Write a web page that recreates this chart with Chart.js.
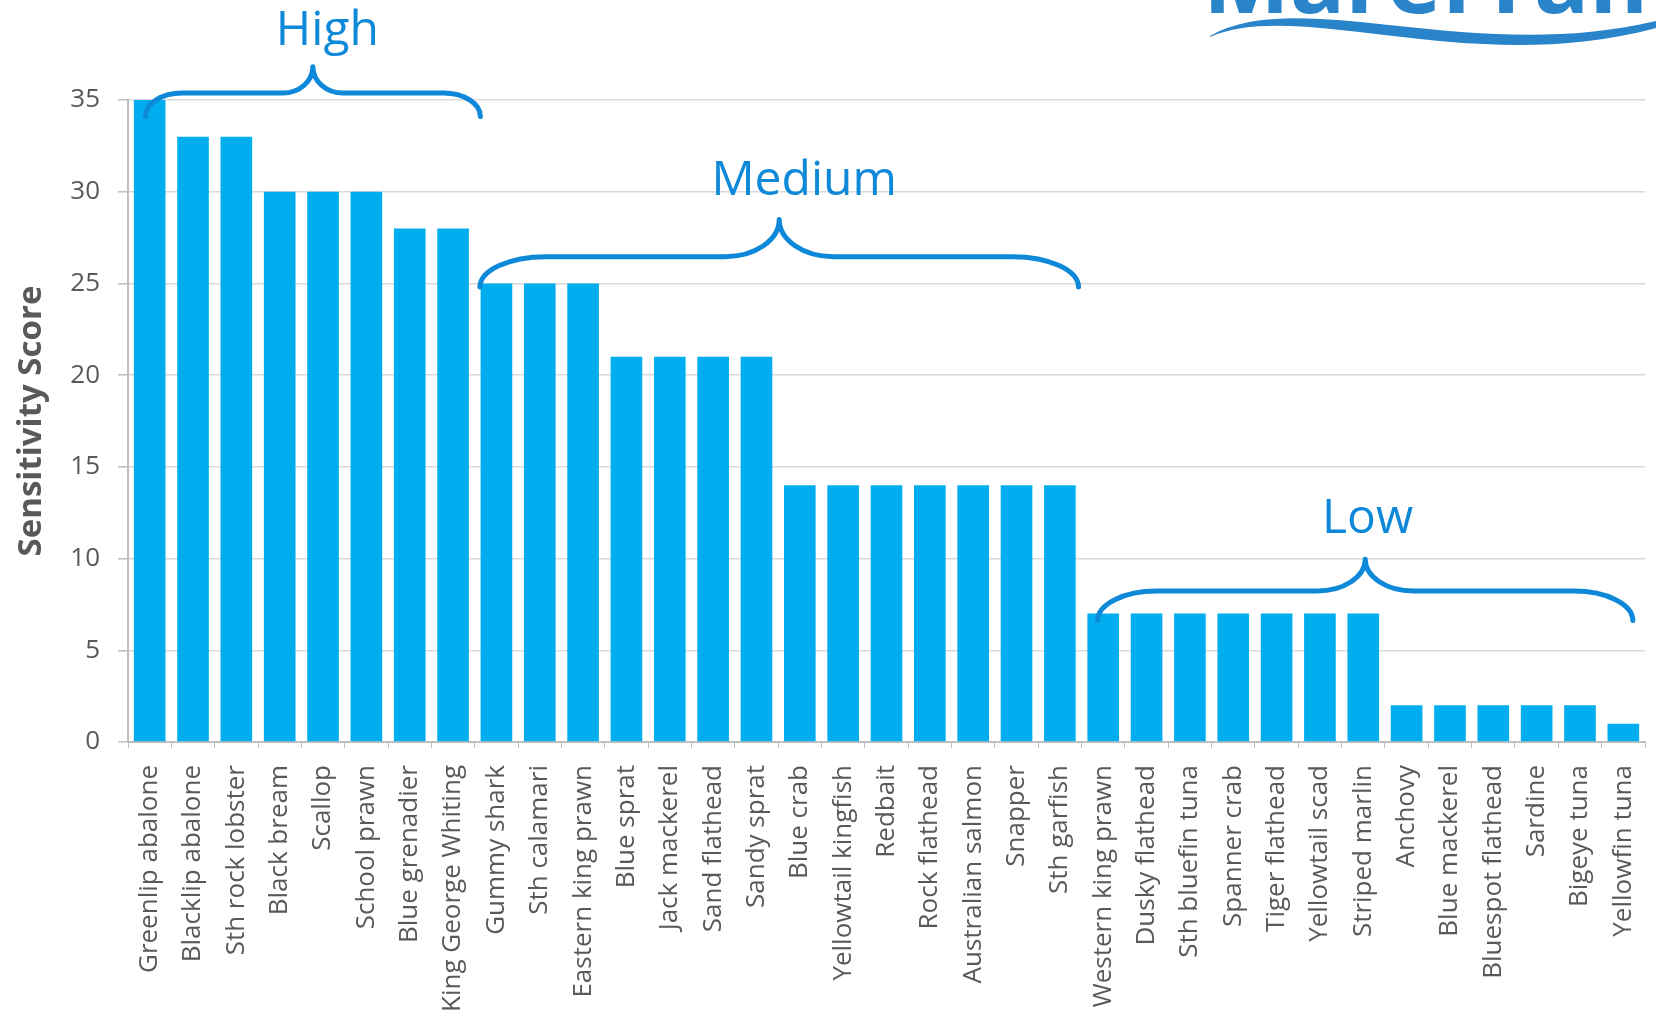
<!DOCTYPE html>
<html><head><meta charset="utf-8">
<script src="https://cdn.jsdelivr.net/npm/chart.js@4.4.1/dist/chart.umd.min.js"></script>
<style>html,body{margin:0;padding:0;background:#fff;overflow:hidden;} #wrap{position:relative;width:1656px;height:1016px;}</style>
</head><body><div id="wrap"><canvas id="c" width="1656" height="1016"></canvas></div>
<script>
const categories = ['Greenlip abalone','Blacklip abalone','Sth rock lobster','Black bream','Scallop','School prawn','Blue grenadier','King George Whiting','Gummy shark','Sth calamari','Eastern king prawn','Blue sprat','Jack mackerel','Sand flathead','Sandy sprat','Blue crab','Yellowtail kingfish','Redbait','Rock flathead','Australian salmon','Snapper','Sth garfish','Western king prawn','Dusky flathead','Sth bluefin tuna','Spanner crab','Tiger flathead','Yellowtail scad','Striped marlin','Anchovy','Blue mackerel','Bluespot flathead','Sardine','Bigeye tuna','Yellowfin tuna'];
const scores = [35,33,33,30,30,30,28,28,25,25,25,21,21,21,21,14,14,14,14,14,14,14,7,7,7,7,7,7,7,2,2,2,2,2,1];
const yTicks = [0,5,10,15,20,25,30,35];
const yTitle = 'Sensitivity Score';

// group braces, in data units (category index / score)
const groupNames = ['High','Medium','Low'];
const braceFrom = [-0.1, 7.62, 21.87];
const braceTo = [7.63, 21.43, 34.22];
const braceTip = [34.1, 24.8, 6.62];
const braceLine = [35.38, 26.46, 8.23];
const bracePeak = [36.81, 28.48, 9.96];
const groupLabelAt = [4.1, 15.1, 28.1];
const groupLabelValue = [38.0, 29.8, 11.4];
const logoText = 'MareFrame';

const BRACE_COLOR = '#0E88D8';

const bracePlugin = {
  id: 'braces',
  afterDatasetsDraw(chart) {
    const {ctx, scales: {x, y}} = chart;
    const p0 = x.getPixelForValue(0), p1 = x.getPixelForValue(1);
    const px = i => p0 + i * (p1 - p0);
    ctx.save();
    ctx.strokeStyle = BRACE_COLOR;
    ctx.lineWidth = 5;
    ctx.lineCap = 'round';
    ctx.lineJoin = 'round';
    const k = 0.552;
    for (let g = 0; g < groupNames.length; g++) {
      const x0 = px(braceFrom[g]), x1 = px(braceTo[g]);
      const xm = (x0 + x1) / 2;
      const w = x1 - x0;
      const c = 0.11 * w, m = 0.09 * w;
      const yT = y.getPixelForValue(braceTip[g]);
      const yL = y.getPixelForValue(braceLine[g]);
      const yP = y.getPixelForValue(bracePeak[g]);
      const dy = yT - yL, dv = yL - yP;
      ctx.beginPath();
      ctx.moveTo(x0, yT);
      ctx.bezierCurveTo(x0, yT - dy * k, x0 + c * (1 - k), yL, x0 + c, yL);
      ctx.lineTo(xm - m, yL);
      ctx.bezierCurveTo(xm - m + m * k, yL, xm, yP + dv * k, xm, yP);
      ctx.bezierCurveTo(xm, yP + dv * k, xm + m - m * k, yL, xm + m, yL);
      ctx.lineTo(x1 - c, yL);
      ctx.bezierCurveTo(x1 - c * (1 - k), yL, x1, yT - dy * k, x1, yT);
      ctx.stroke();
      ctx.fillStyle = BRACE_COLOR;
      ctx.font = '48px "Open Sans"';
      ctx.textAlign = 'center';
      ctx.textBaseline = 'alphabetic';
      ctx.fillText(groupNames[g], px(groupLabelAt[g]), y.getPixelForValue(groupLabelValue[g]));
    }
    ctx.restore();
  }
};

const logoPlugin = {
  id: 'logo',
  afterDraw(chart) {
    const ctx = chart.ctx;
    ctx.save();
    ctx.fillStyle = '#2A84C9';
    ctx.font = 'bold 92px "Open Sans"';
    ctx.textAlign = 'left';
    ctx.textBaseline = 'alphabetic';
    ctx.fillText(logoText, 1203, 13);
    ctx.beginPath();
    ctx.moveTo(1210, 36);
    ctx.bezierCurveTo(1300, -15, 1470, 65, 1656, 21);
    ctx.lineTo(1656, 28);
    ctx.bezierCurveTo(1470, 78, 1300, -2, 1210, 37);
    ctx.closePath();
    ctx.fill();
    ctx.restore();
  }
};

new Chart(document.getElementById('c'), {
  type: 'bar',
  data: {
    labels: categories,
    datasets: [{
      data: scores,
      backgroundColor: '#00AEEF',
      borderWidth: 0,
      barPercentage: 0.73,
      categoryPercentage: 1.0
    }]
  },
  options: {
    responsive: false,
    animation: false,
    devicePixelRatio: 1,
    layout: {padding: {left: 0, right: 11, top: 100, bottom: 0}},
    plugins: {legend: {display: false}, tooltip: {enabled: false}},
    scales: {
      x: {
        grid: {display: true, drawOnChartArea: false, drawTicks: true, tickLength: 6, color: '#BFBFBF', offset: true},
        border: {display: true, color: '#BFBFBF', width: 2},
        ticks: {autoSkip: false, maxRotation: 90, minRotation: 90, padding: 17, color: '#595959', font: {family: 'Open Sans', size: 26}},
        afterFit(s) { s.height = 274; s.paddingLeft = 0; s.paddingRight = 0; }
      },
      y: {
        min: 0, max: 35,
        afterBuildTicks(s) { s.ticks = yTicks.map(v => ({value: v})); },
        ticks: {padding: 18, color: '#595959', font: {family: 'Open Sans', size: 26}},
        grid: {color: '#D9D9D9', lineWidth: 1.5, tickLength: 10, tickColor: '#BFBFBF'},
        border: {display: true, color: '#BFBFBF', width: 2},
        title: {display: true, text: yTitle, color: '#595959', font: {family: 'Open Sans', size: 33, weight: 'bold'}, padding: {top: 12, bottom: 0}},
        afterFit(s) { s.width = 128; s.paddingTop = 0; s.paddingBottom = 0; }
      }
    }
  },
  plugins: [bracePlugin, logoPlugin]
});
</script>
</body></html>
